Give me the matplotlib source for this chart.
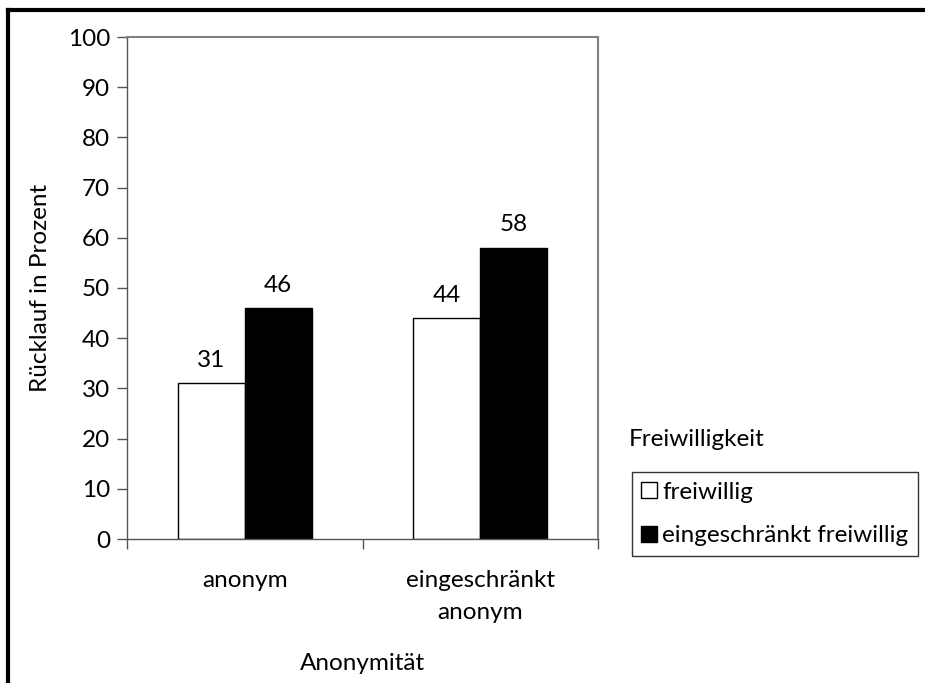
import numpy as np
import matplotlib.pyplot as plt
from matplotlib.lines import Line2D

plt.rcParams['font.family'] = ['Lato', 'DejaVu Sans']

categories = ['anonym', 'eingeschränkt\nanonym']
series_names = ['freiwillig', 'eingeschränkt freiwillig']
freiwillig = [31, 44]
eingeschraenkt = [46, 58]
y_ticks = list(range(0, 101, 10))

FS = 17.5

fig = plt.figure(figsize=(9.25, 6.83), dpi=100)
ax = fig.add_axes([127 / 925, 1 - 539 / 683, (598 - 127) / 925, (539 - 37) / 683])

x = np.arange(len(categories))
width = 0.284
b1 = ax.bar(x - width / 2, freiwillig, width, color='white', edgecolor='black', linewidth=1)
b2 = ax.bar(x + width / 2, eingeschraenkt, width, color='black', edgecolor='black', linewidth=1)

for bars in (b1, b2):
    for rect in bars:
        h = rect.get_height()
        ax.annotate(f'{h:.0f}', (rect.get_x() + rect.get_width() / 2, h),
                    xytext=(0, 9), textcoords='offset points',
                    ha='center', va='bottom', fontsize=FS)

ax.set_xlim(-0.5, len(categories) - 0.5)
ax.set_ylim(0, 100)
ax.set_yticks(y_ticks)
ax.tick_params(axis='y', labelsize=FS, direction='out', length=7, width=1, color='#555555', pad=5)

# category ticks sit on the group boundaries, labels in the middle
ax.set_xticks(np.arange(-0.5, len(categories), 1.0))
ax.set_xticklabels([])
ax.set_xticks(x, minor=True)
ax.set_xticklabels(categories, minor=True, fontsize=FS, linespacing=1.65)
ax.tick_params(axis='x', which='major', direction='out', length=7, width=1, color='#555555')
ax.tick_params(axis='x', which='minor', length=0, pad=22)

for side in ('top', 'right'):
    ax.spines[side].set_color('#808080')
    ax.spines[side].set_linewidth(1.5)
for side in ('left', 'bottom'):
    ax.spines[side].set_color('#555555')
    ax.spines[side].set_linewidth(1)

ax.set_ylabel('Rücklauf in Prozent', fontsize=FS, labelpad=12)
ax.set_xlabel('Anonymität', fontsize=FS, labelpad=22)

# legend: title outside the box as in the original
fig.text(629 / 925, 1 - 440 / 683, 'Freiwilligkeit', fontsize=FS, va='center', ha='left')
handles = [
    Line2D([], [], marker='s', linestyle='none', markersize=12,
           markerfacecolor='white', markeredgecolor='black', markeredgewidth=1),
    Line2D([], [], marker='s', linestyle='none', markersize=12,
           markerfacecolor='black', markeredgecolor='black', markeredgewidth=1),
]
leg = fig.legend(handles, series_names, loc='upper left',
                 bbox_to_anchor=(632 / 925, 1 - 472 / 683), fontsize=FS,
                 frameon=True, fancybox=False, edgecolor='black',
                 handlelength=0.6, handletextpad=0.25, borderpad=0.4,
                 labelspacing=0.92, borderaxespad=0)
leg.get_frame().set_linewidth(1)

# outer frame: only top and left edges are visible in the reference
fig.add_artist(Line2D([8 / 925, 1.0], [1 - 10 / 683] * 2, color='black', linewidth=3,
                      transform=fig.transFigure))
fig.add_artist(Line2D([8 / 925] * 2, [0.0, 1 - 10 / 683], color='black', linewidth=3,
                      transform=fig.transFigure))

fig.savefig('out.png', dpi=100)
